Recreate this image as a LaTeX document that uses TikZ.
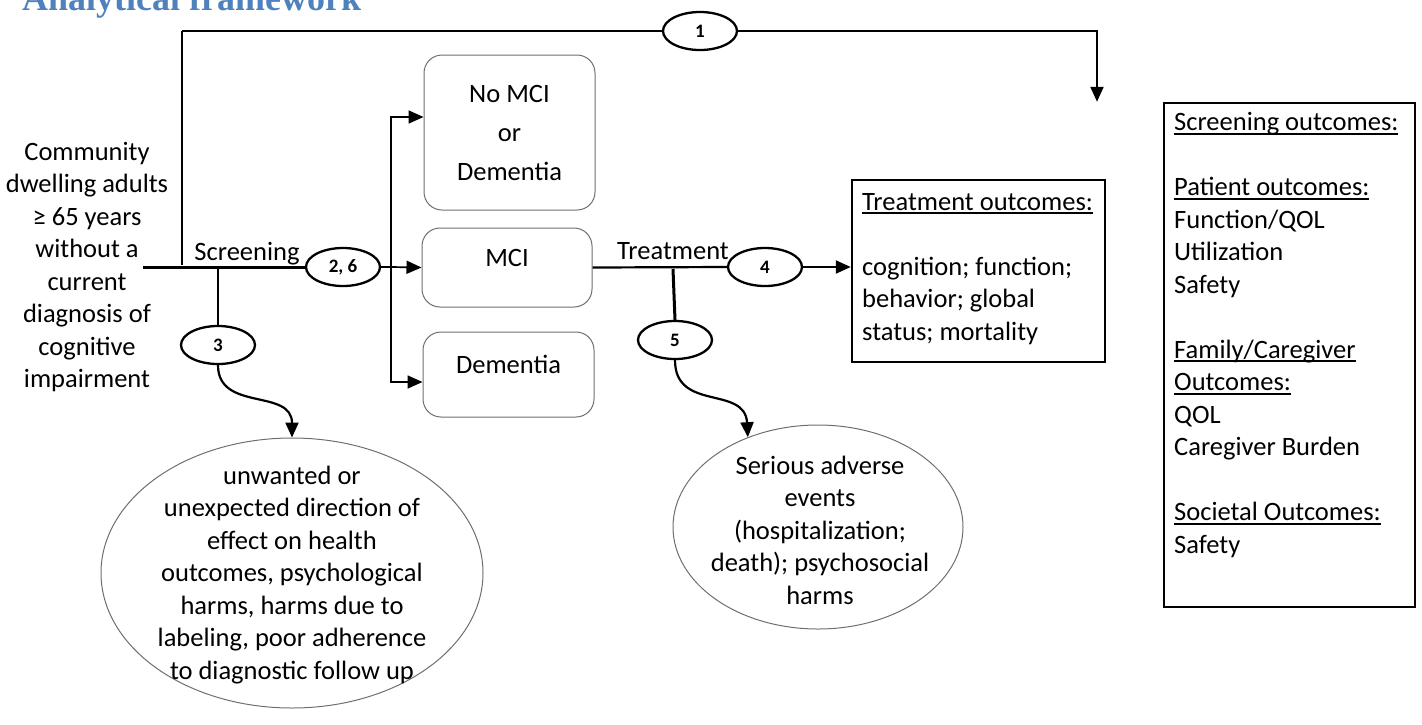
\documentclass[tikz,border=0pt]{standalone}
\usepackage{fontspec}
\setmainfont{Carlito}
\newfontfamily\titlefont{Liberation Serif}
\usetikzlibrary{arrows.meta,shapes.geometric}
\definecolor{titleblue}{RGB}{79,129,189}
\definecolor{boxgray}{RGB}{110,110,110}
\newlength\myulw
\newcommand\myul[1]{\settowidth\myulw{#1}\mbox{\rlap{#1}\rule[-4pt]{\myulw}{1.8pt}}}
\begin{document}
\begin{tikzpicture}[x=1pt,y=-1pt,
  every node/.style={font=\fontsize{26.5}{32.5}\selectfont, inner sep=0pt},
  num/.style={ellipse, draw, line width=2.3pt, minimum width=74pt, minimum height=38pt, font=\fontsize{19}{22}\selectfont\bfseries},
  rbox/.style={rounded corners=18pt, draw=boxgray, line width=1pt, align=center},
  obox/.style={draw, line width=2.5pt},
  oval/.style={ellipse, draw=boxgray, line width=1pt},
  txt/.style={align=center},
  tip/.style={-{Triangle[length=15pt,width=13pt]}},
  lwa/.style={line width=1.7pt},
  lwb/.style={line width=2.2pt},
  lwc/.style={line width=3pt}
]
\useasboundingbox (0,0) rectangle (1422,724);
\clip (0,0) rectangle (1422,724);

% title
\node[anchor=base west, font=\titlefont\bfseries\fontsize{36}{40}\selectfont, text=titleblue] (title) at (22,10) {Analytical framework};

% population
\node[txt] (pop) at (87,267) {Community\\dwelling adults\\≥ 65 years\\without a\\current\\diagnosis of\\cognitive\\impairment};

% numbered ellipses
\node[num] (e1) at (700,31) {1};
\node[num] (e26) at (343,267) {2, 6};
\node[num] (e3) at (218,345) {3};
\node[num] (e4) at (765,267) {4};
\node[num] (e5) at (675,340) {5};

% rounded boxes
\node[rbox, minimum width=171pt, minimum height=155pt] (nomci) at (509.5,132.5) {No MCI\\[6.5pt]or\\[6.5pt]Dementia};
\node[rbox, minimum width=170pt, minimum height=79pt, text depth=20pt] (mci) at (507,267.5) {MCI};
\node[rbox, minimum width=171pt, minimum height=85pt, text depth=20pt] (dem) at (508.5,374.5) {Dementia};

% outcome boxes
\node[obox, minimum width=253pt, minimum height=182pt] (trbox) at (978.5,271) {};
\node[anchor=base west, align=left] (trtxt) at (862,340) {\myul{Treatment outcomes:}\\[32.5pt]cognition; function;\\behavior; global\\status; mortality};
\node[obox, minimum width=251pt, minimum height=504pt] (scrbox) at (1289.5,355) {};
\node[anchor=base west, align=left] (scrtxt) at (1174,553) {\myul{Screening outcomes:}\\[32.5pt]\myul{Patient outcomes:}\\Function/QOL\\Utilization\\Safety\\[32.5pt]\myul{Family/Caregiver}\\\myul{Outcomes:}\\QOL\\Caregiver Burden\\[32.5pt]\myul{Societal Outcomes:}\\Safety};

% harm ovals
\node[oval, minimum width=382pt, minimum height=270pt] (harm3) at (292,573) {};
\node[txt] (harm3txt) at (292,575) {unwanted or\\unexpected direction of\\effect on health\\outcomes, psychological\\harms, harms due to\\labeling, poor adherence\\to diagnostic follow up};
\node[oval, minimum width=290pt, minimum height=204pt] (sae) at (818,527) {};
\node[txt] (saetxt) at (820,530) {Serious adverse\\events\\(hospitalization;\\death); psychosocial\\harms};

% labels
\node[anchor=base] (scrlbl) at (247,260) {Screening};
\node[anchor=base] (trlbl) at (673,259) {Treatment};

% connectors
\coordinate (m0) at (143,267);
\draw[lwc] (m0) -- (e26.west);
\coordinate (v0) at (182,265);
\draw[lwa] (v0) -- (v0 |- e1.west);
\draw[line width=2.7pt] (v0 |- e1.west) -- (e1.west);
\coordinate (r1) at (1097,0);
\draw[lwb, tip] (e1.east) -| (r1 |- scrbox.north);
\coordinate (s3) at (218,268);
\draw[lwb] (s3) -- (e3.north);
\draw[lwb, tip] (e3.south) .. controls (218,412) and (292,388) .. (harm3.north);

\coordinate (sp) at (391,267);
\draw[lwb] (e26.east) -- (sp);
\draw[lwa, tip] (sp) |- ([yshift=15.5pt]nomci.west);
\draw[lwa, tip] (sp) -- (mci.west);
\draw[lwa, tip] (sp) |- ([yshift=-7.5pt]dem.west);

\draw[lwb] (mci.east) -- (e4.west);
\coordinate (t5) at (673,269);
\draw[lwc] (t5) -- (e5.north);
\draw[lwb, tip] (e4.east) -- (trbox.west |- e4.east);
\draw[lwb, tip] (e5.south) .. controls (675,412) and (745,385) .. (sae.128);
\end{tikzpicture}
\end{document}
